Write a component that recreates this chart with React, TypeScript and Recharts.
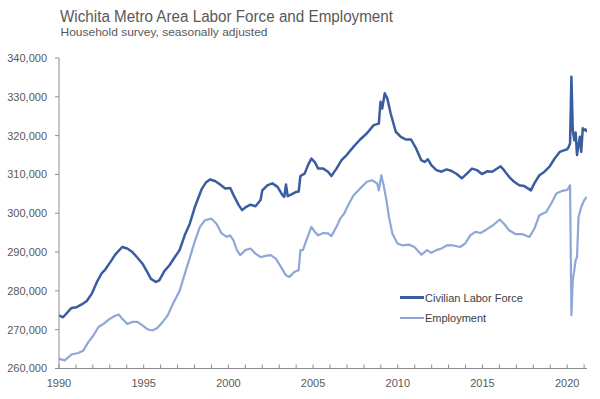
import React from 'react';
import { LineChart, Line, XAxis, YAxis, Legend } from 'recharts';

// Civilian labor force (thousands), decimal year positions
const clfYears = [
  1990.0, 1990.24, 1990.74, 1991.04, 1991.34, 1991.64, 1991.94, 1992.24, 1992.53, 1992.73,
  1993.03, 1993.33, 1993.73, 1994.03, 1994.33, 1994.62, 1994.93, 1995.18, 1995.43, 1995.72,
  1995.92, 1996.22, 1996.52, 1996.82, 1997.12, 1997.42, 1997.72, 1998.02, 1998.42, 1998.67,
  1998.91, 1999.21, 1999.51, 1999.81, 2000.11, 2000.31, 2000.61, 2000.81, 2001.0, 2001.3,
  2001.6, 2001.9, 2002.0, 2002.3, 2002.6, 2002.9, 2003.2, 2003.3, 2003.4, 2003.5,
  2003.7, 2004.0, 2004.15, 2004.25, 2004.5, 2004.7, 2004.9, 2005.1, 2005.3, 2005.6,
  2005.88, 2006.08, 2006.38, 2006.68, 2006.98, 2007.38, 2007.78, 2008.18, 2008.58, 2008.88,
  2008.98, 2009.08, 2009.23, 2009.38, 2009.58, 2009.88, 2010.18, 2010.48, 2010.78, 2011.08,
  2011.38, 2011.58, 2011.78, 2011.98, 2012.28, 2012.58, 2012.88, 2013.18, 2013.48, 2013.78,
  2014.08, 2014.38, 2014.68, 2014.97, 2015.27, 2015.57, 2016.07, 2016.27, 2016.57, 2016.87,
  2017.17, 2017.47, 2017.86, 2018.06, 2018.36, 2018.66, 2018.96, 2019.26, 2019.56, 2019.8,
  2020.0, 2020.08, 2020.17, 2020.25, 2020.33, 2020.42, 2020.5, 2020.58, 2020.67, 2020.75,
  2020.83, 2020.92, 2021.0, 2021.08, 2021.17,
];
const clfValues = [
  273.7, 273.2, 275.6, 275.8, 276.5, 277.4, 279.3, 282.3, 284.6, 285.5,
  287.4, 289.4, 291.3, 290.9, 290.0, 288.6, 287.0, 285.1, 283.1, 282.3,
  282.7, 285.1, 286.6, 288.6, 290.5, 294.3, 297.3, 301.6, 306.2, 307.9,
  308.7, 308.3, 307.4, 306.4, 306.5, 304.6, 302.1, 300.8, 301.5, 302.2,
  301.8, 303.4, 305.9, 307.2, 307.7, 306.8, 304.6, 304.2, 307.4, 304.4,
  304.8, 305.5, 305.6, 309.6, 310.2, 312.4, 314.1, 313.2, 311.5, 311.5,
  310.7, 309.6, 311.5, 313.7, 315.0, 317.1, 319.0, 320.6, 322.7, 323.1,
  328.7, 327.0, 330.9, 329.6, 325.7, 321.0, 319.7, 319.0, 319.0, 316.7,
  313.7, 313.2, 313.9, 312.4, 311.1, 310.7, 311.3, 310.9, 310.1, 309.0,
  310.2, 311.5, 311.1, 310.1, 310.8, 310.7, 312.1, 311.1, 309.4, 308.1,
  307.2, 307.0, 305.9, 307.7, 309.8, 310.7, 312.0, 314.1, 315.8, 316.2,
  316.5, 317.0, 318.0, 335.2, 321.4, 318.8, 320.8, 315.0, 317.5, 319.7,
  315.8, 321.9, 321.4, 321.6, 321.0,
];

// Employment (thousands), decimal year positions
const empYears = [
  1990.0, 1990.34, 1990.74, 1991.13, 1991.43, 1991.73, 1992.03, 1992.33, 1992.63, 1992.93,
  1993.23, 1993.53, 1993.73, 1994.03, 1994.33, 1994.63, 1994.93, 1995.23, 1995.52, 1995.82,
  1996.12, 1996.42, 1996.72, 1997.12, 1997.42, 1997.72, 1998.02, 1998.32, 1998.62, 1999.0,
  1999.3, 1999.6, 1999.9, 2000.1, 2000.3, 2000.5, 2000.7, 2001.0, 2001.3, 2001.6,
  2001.9, 2002.2, 2002.5, 2002.8, 2003.1, 2003.4, 2003.6, 2003.9, 2004.15, 2004.25,
  2004.4, 2004.6, 2004.9, 2005.1, 2005.3, 2005.6, 2005.88, 2006.08, 2006.38, 2006.6,
  2006.85, 2007.0, 2007.38, 2007.78, 2008.18, 2008.48, 2008.78, 2008.88, 2009.03, 2009.18,
  2009.33, 2009.48, 2009.68, 2009.98, 2010.28, 2010.68, 2010.98, 2011.4, 2011.73, 2011.98,
  2012.28, 2012.58, 2012.88, 2013.28, 2013.68, 2013.98, 2014.28, 2014.58, 2014.88, 2015.17,
  2015.47, 2015.62, 2016.02, 2016.27, 2016.57, 2016.97, 2017.37, 2017.77, 2018.06, 2018.36,
  2018.76, 2019.06, 2019.36, 2019.66, 2019.85,
  2020.0, 2020.08, 2020.17, 2020.25, 2020.33, 2020.42, 2020.5, 2020.58, 2020.67, 2020.75,
  2020.83, 2020.92, 2021.0, 2021.08, 2021.17,
];
const empValues = [
  262.5, 262.1, 263.6, 264.0, 264.6, 266.8, 268.5, 270.7, 271.5, 272.6,
  273.4, 273.9, 272.8, 271.5, 272.0, 272.0, 271.1, 270.1, 269.8, 270.5,
  272.0, 273.7, 276.6, 280.0, 284.3, 288.5, 292.8, 296.5, 298.2, 298.6,
  297.3, 294.8, 293.9, 294.3, 293.0, 290.5, 289.2, 290.5, 290.9, 289.6,
  288.7, 289.0, 289.2, 288.3, 286.2, 284.0, 283.6, 284.9, 285.3, 290.5,
  290.5, 293.0, 296.5, 295.2, 294.3, 294.9, 294.8, 294.1, 296.5, 298.6,
  300.0, 301.5, 304.6, 306.4, 308.1, 308.5, 307.7, 305.9, 309.8, 306.8,
  303.4, 299.0, 294.8, 292.2, 291.7, 291.9, 291.3, 289.3, 290.5, 289.8,
  290.5, 290.9, 291.7, 291.7, 291.3, 292.2, 294.3, 295.2, 294.9, 295.6,
  296.5, 296.9, 298.4, 297.3, 295.6, 294.6, 294.6, 293.9, 296.0, 299.5,
  300.3, 302.5, 305.1, 305.7, 305.9,
  306.0, 306.5, 307.2, 273.7, 282.7, 285.3, 287.9, 288.7, 299.0, 300.3,
  301.6, 302.5, 303.3, 303.8, 304.2,
];

const yearTicks = [
  1990, 1991, 1992, 1993, 1994, 1995, 1996, 1997, 1998, 1999, 2000, 2001, 2002, 2003, 2004, 2005,
  2006, 2007, 2008, 2009, 2010, 2011, 2012, 2013, 2014, 2015, 2016, 2017, 2018, 2019, 2020, 2021,
];
const valueTicks = [260000, 270000, 280000, 290000, 300000, 310000, 320000, 330000, 340000];

const seriesNames = ['Civilian Labor Force', 'Employment'];
const titleText = 'Wichita Metro Area Labor Force and Employment';
const subtitleText = 'Household survey, seasonally adjusted';

const zip = (ts: number[], vs: number[]) => {
  const n = Math.min(ts.length, vs.length);
  const out: { t: number; v: number }[] = [];
  for (let i = 0; i < n; i++) out.push({ t: ts[i], v: vs[i] * 1000 });
  return out;
};

const clfData = zip(clfYears, clfValues);
const empData = zip(empYears, empValues);

const AXIS = '#8c8c8c';
const LABEL = '#595959';
const CLF_COLOR = '#3A5DA0';
const EMP_COLOR = '#8FA7D8';

const YearTick = (props: any) => {
  const { x, y, payload } = props;
  const v = payload.value;
  return (
    <g>
      <line x1={x} x2={x} y1={y} y2={y - 4} stroke={AXIS} strokeWidth={1} />
      {v % 5 === 0 && (
        <text x={x} y={y + 18.5} textAnchor="middle" fontSize={11} fill={LABEL}>
          {v}
        </text>
      )}
    </g>
  );
};

const renderLegend = (props: any) => {
  const payload = props.payload || [];
  return (
    <div>
      {payload.map((e: any, i: number) => (
        <div key={i} style={{ display: 'flex', alignItems: 'center', height: 20 }}>
          <span
            style={{
              display: 'inline-block',
              width: 24,
              height: i === 0 ? 2.5 : 2,
              background: e.color,
            }}
          />
          <span style={{ fontSize: 11, color: '#404040', marginLeft: 1, whiteSpace: 'nowrap' }}>{e.value}</span>
        </div>
      ))}
    </div>
  );
};

export default function App() {
  return (
    <div
      style={{
        position: 'absolute',
        left: 0,
        top: 0,
        width: 600,
        height: 399,
        background: '#fff',
        fontFamily: '"Liberation Sans", Arial, sans-serif',
      }}
    >
      <LineChart width={600} height={399} margin={{ top: 58, right: 13, bottom: 0, left: 0 }}>
        <XAxis
          type="number"
          dataKey="t"
          domain={[1990, 2021.17]}
          ticks={yearTicks}
          interval={0}
          allowDataOverflow
          tick={<YearTick />}
          tickLine={false}
          tickSize={0}
          tickMargin={0}
          height={30.5}
          stroke={AXIS}
        />
        <YAxis
          type="number"
          domain={[260000, 340000]}
          ticks={valueTicks}
          interval={0}
          width={59}
          tickSize={4}
          tickMargin={8}
          stroke={AXIS}
          tick={{ fill: LABEL, fontSize: 11 }}
          tickFormatter={(v: number) => v.toLocaleString('en-US')}
        />
        <Legend
          layout="vertical"
          align="center"
          verticalAlign="middle"
          content={renderLegend}
          wrapperStyle={{ left: 400, top: 287.5, width: 160 }}
        />
        <Line
          data={clfData}
          dataKey="v"
          name={seriesNames[0]}
          stroke={CLF_COLOR}
          strokeWidth={2.5}
          dot={false}
          strokeLinejoin="round"
          isAnimationActive={false}
        />
        <Line
          data={empData}
          dataKey="v"
          name={seriesNames[1]}
          stroke={EMP_COLOR}
          strokeWidth={2.2}
          dot={false}
          strokeLinejoin="round"
          isAnimationActive={false}
        />
      </LineChart>
      <svg style={{ position: 'absolute', left: 0, top: 0, pointerEvents: 'none' }} width={600} height={45}>
        <text x={60} y={21.7} fontSize={16} fill={LABEL} textLength={333} lengthAdjust="spacingAndGlyphs">
          {titleText}
        </text>
        <text x={60.5} y={36} fontSize={11} fill={LABEL} textLength={207} lengthAdjust="spacingAndGlyphs">
          {subtitleText}
        </text>
      </svg>
    </div>
  );
}
